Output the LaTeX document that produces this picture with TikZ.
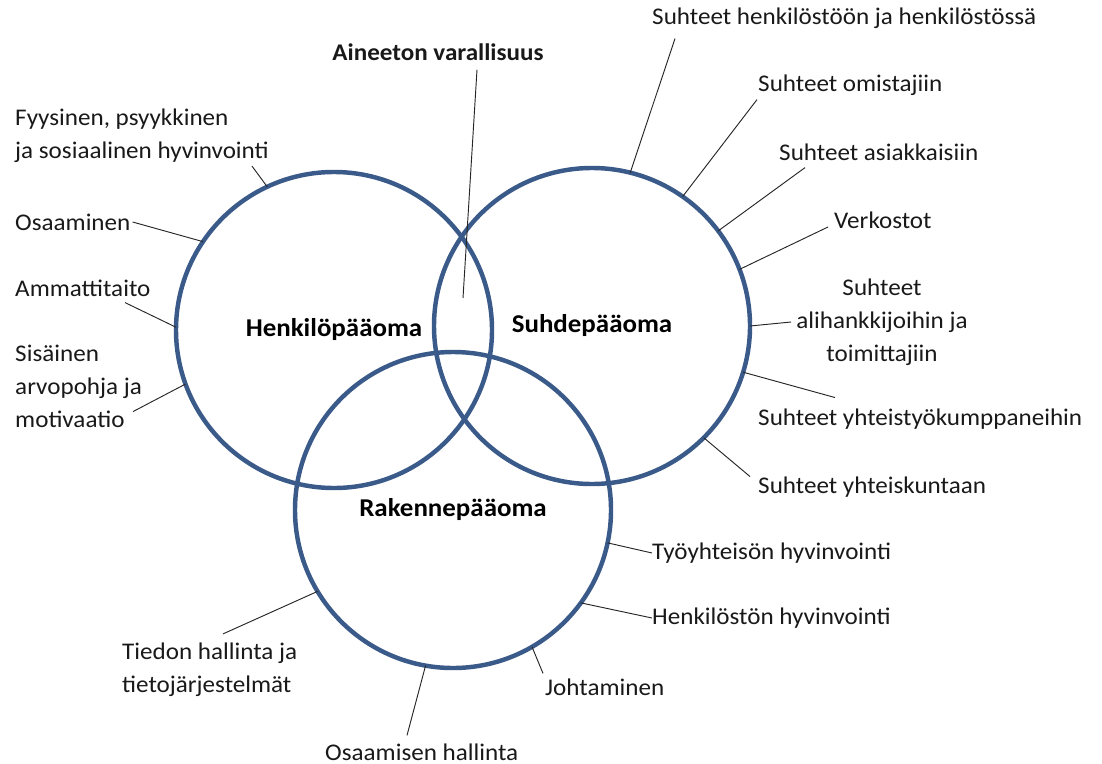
\documentclass[tikz,border=0pt]{standalone}
\usepackage{fontspec}
\setmainfont{Carlito}[FakeStretch=1.05]
\usetikzlibrary{positioning,calc}

\definecolor{ringblue}{RGB}{58,90,138}
\newcommand{\lblsize}{\fontsize{20.4}{28.2}\selectfont}
\newcommand{\capsize}{\fontsize{21.9}{28.2}\selectfont}

\tikzset{
  ring/.style={circle, draw=ringblue, line width=3.8pt, minimum size=9.48cm,
    inner sep=0pt, outer sep=0pt, font=\capsize\bfseries},
  lbl/.style={inner sep=0pt, font=\lblsize, text=black!90},
  lead/.style={draw=black!85, line width=0.8pt}
}

\begin{document}
\begin{tikzpicture}[x=0.03cm,y=-0.03cm]
\useasboundingbox (0,0) rectangle (1102,764);

% the three capitals
\node[ring] (henk) at (334,330) {Henkilöpääoma};
\node[ring] (suhde) at (592,326) {Suhdepääoma};
\node[ring] (rak) at (453,510) {Rakennepääoma};

% intangible assets
\node[lbl, font=\lblsize\bfseries] (ainv) at (438,52) {Aineeton varallisuus};
\coordinate (ainc) at (463,298);
\draw[lead] ($(ainv.south)+(39,9)$) -- (ainc);

% human capital
\node[lbl, anchor=west, align=left] (henk1) at (15,136) {Fyysinen, psyykkinen\\ja sosiaalinen hyvinvointi};
\node[lbl, anchor=west] (henk2) at (15,222) {Osaaminen};
\node[lbl, anchor=west] (henk3) at (15,288) {Ammattitaito};
\node[lbl, anchor=west, align=left] (henk4) at (15,386) {Sisäinen\\arvopohja ja\\motivaatio};
\draw[lead] ($(henk1.south west)+(237,3)$) -- (henk.115.6);
\draw[lead] ($(henk2.east)+(2,0)$) -- (henk.146.8);
\draw[lead] ($(henk3.south west)+(110,6)$) -- (henk.179.3);
\draw[lead] ($(henk4.south west)+(118,-16)$) -- (henk.200.4);

% relational capital
\node[lbl, anchor=west] (suh1) at (652,18) {Suhteet henkilöstöön ja henkilöstössä};
\node[lbl, anchor=west] (suh2) at (758,85) {Suhteet omistajiin};
\node[lbl, anchor=west] (suh3) at (779,152) {Suhteet asiakkaisiin};
\node[lbl, anchor=west] (suh4) at (834,220) {Verkostot};
\node[lbl, align=center] (suh5) at (882,322) {Suhteet\\alihankkijoihin ja\\toimittajiin};
\node[lbl, anchor=west] (suh6) at (758,419) {Suhteet yhteistyökumppaneihin};
\node[lbl, anchor=west] (suh7) at (758,487) {Suhteet yhteiskuntaan};
\draw[lead] ($(suh1.south west)+(23,10)$) -- (suhde.76.1);
\draw[lead] ($(suh2.south west)+(-1,4)$) -- (suhde.55);
\draw[lead] ($(suh3.south west)+(26,7)$) -- (suhde.37.3);
\draw[lead] ($(suh4.west)+(-6,7)$) -- (suhde.21.5);
\draw[lead] ($(suh5.west)+(-5,0)$) -- (suhde.0);
\draw[lead] ($(suh6.north west)+(77,-11)$) -- (suhde.-17.9);
\draw[lead] ($(suh7.north west)+(-8,0)$) -- (suhde.-45);

% structural capital
\node[lbl, anchor=west] (rak1) at (652,553) {Työyhteisön hyvinvointi};
\node[lbl, anchor=west] (rak2) at (652,618) {Henkilöstön hyvinvointi};
\node[lbl, anchor=west] (rak3) at (545,687) {Johtaminen};
\node[lbl, anchor=west] (rak4) at (325,752) {Osaamisen hallinta};
\node[lbl, anchor=west, align=left] (rak5) at (122,670) {Tiedon hallinta ja\\tietojärjestelmät};
\draw[lead] (rak1.west) -- (rak.-12.6);
\draw[lead] (rak2.west) -- (rak.-36.2);
\draw[lead] ($(rak3.north west)+(-2,-5)$) -- (rak.-60.2);
\draw[lead] ($(rak4.north west)+(82,-8)$) -- (rak.260.8);
\draw[lead] ($(rak5.north west)+(101,-9)$) -- (rak.211.1);
\end{tikzpicture}
\end{document}
